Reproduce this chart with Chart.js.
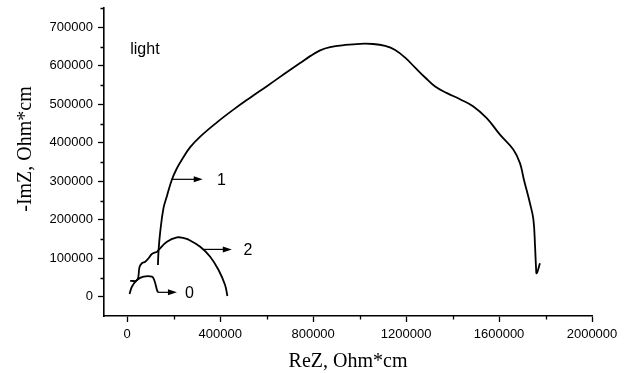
<!DOCTYPE html>
<html>
<head>
<meta charset="utf-8">
<script src="https://cdn.jsdelivr.net/npm/chart.js@4/dist/chart.umd.min.js"></script>
<style>
  html, body { margin: 0; padding: 0; background: #fff; }
  #wrap { width: 626px; height: 373px; }
</style>
</head>
<body>
<div id="wrap"><canvas id="c" width="626" height="373"></canvas></div>
<script>
// Nyquist impedance spectra (ReZ vs -ImZ), sample under light
const curve0X = [10000, 20000, 42000, 70000, 106000, 116000, 128000, 132000];
const curve0Y = [7000, 26000, 43500, 52000, 52000, 43500, 17500, 11500];

const curve1X = [132000, 135000, 142000, 156000, 171000, 192000, 214000, 235000, 271000, 314000, 386000, 457000, 529000, 601000, 672000, 744000, 787000, 830000, 873000, 938000, 1002000, 1058000, 1110000, 1153000, 1196000, 1239000, 1282000, 1325000, 1376000, 1432000, 1488000, 1547000, 1604000, 1662000, 1690000, 1707000, 1733000, 1748000, 1755000, 1759000, 1762000, 1776000];
const curve1Y = [82500, 121600, 169000, 230000, 262000, 304000, 334000, 356000, 388500, 416000, 453000, 486000, 517000, 547000, 577000, 607000, 625000, 640000, 648500, 654000, 657000, 656500, 651500, 641000, 621000, 595000, 569500, 546000, 529000, 513000, 495000, 464000, 421000, 382000, 347000, 304000, 243000, 200000, 130000, 78000, 61000, 87000];

const curve2X = [12900, 43000, 52900, 63200, 77400, 91600, 106000, 128000, 135000, 171000, 214000, 240000, 262000, 314000, 357000, 393000, 421000, 431000];
const curve2Y = [40900, 43500, 77300, 87000, 91100, 100000, 111000, 117000, 121600, 143000, 154000, 153000, 149000, 130000, 104000, 69500, 30500, 2000];

// Curve markers: arrow from the curve to its number
const markerLabels = ['1', '2', '0'];
const markerY = [305000, 123000, 11500];
const markerStartX = [190000, 328000, 132000];
const markerEndX = [325000, 450000, 214000];
const markerTextX = [386000, 500000, 249000];

// Axis ticks
const xMajorTicks = [0, 400000, 800000, 1200000, 1600000, 2000000];
const xMinorTicks = [200000, 600000, 1000000, 1400000, 1800000];
const yMajorTicks = [0, 100000, 200000, 300000, 400000, 500000, 600000, 700000];
const yMinorTicks = [50000, 150000, 250000, 350000, 450000, 550000, 650000, 750000];

const xTitle = 'ReZ, Ohm*cm';
const yTitle = '-ImZ, Ohm*cm';
const noteText = 'light';
const noteX = 13000;
const noteY = 642000;

const toPoints = (xs, ys) => xs.map((x, i) => ({ x: x, y: ys[i] }));

const lineStyle = {
  borderColor: '#000',
  borderWidth: 1.8,
  pointRadius: 0,
  showLine: true,
  fill: false,
  tension: 0.4
};

const decorations = {
  id: 'decorations',
  afterDraw(chart) {
    const ctx = chart.ctx;
    const xs = chart.scales.x, ys = chart.scales.y;
    ctx.save();
    ctx.strokeStyle = '#000';
    ctx.fillStyle = '#000';

    // minor tick marks
    ctx.lineWidth = 1.3;
    ctx.beginPath();
    xMinorTicks.forEach(v => {
      const px = Math.round(xs.getPixelForValue(v)) + 0.5;
      ctx.moveTo(px, xs.top);
      ctx.lineTo(px, xs.top + 3.5);
    });
    yMinorTicks.forEach(v => {
      const py = Math.round(ys.getPixelForValue(v)) + 0.5;
      ctx.moveTo(ys.right, py);
      ctx.lineTo(ys.right - 3.5, py);
    });
    ctx.stroke();

    // arrows with curve numbers
    ctx.font = '16px "Liberation Sans", Arial, sans-serif';
    ctx.textBaseline = 'middle';
    ctx.textAlign = 'left';
    markerLabels.forEach((lab, i) => {
      const y = ys.getPixelForValue(markerY[i]);
      const x0 = xs.getPixelForValue(markerStartX[i]);
      const x1 = xs.getPixelForValue(markerEndX[i]);
      ctx.lineWidth = 1.2;
      ctx.beginPath();
      ctx.moveTo(x0, y);
      ctx.lineTo(x1 - 6, y);
      ctx.stroke();
      ctx.beginPath();
      ctx.moveTo(x1, y);
      ctx.lineTo(x1 - 9, y - 3);
      ctx.lineTo(x1 - 9, y + 3);
      ctx.closePath();
      ctx.fill();
      ctx.fillText(lab, xs.getPixelForValue(markerTextX[i]), y + 1);
    });

    // note
    ctx.font = '16px "Liberation Sans", Arial, sans-serif';
    ctx.fillText(noteText, xs.getPixelForValue(noteX), ys.getPixelForValue(noteY));

    // axis titles
    ctx.font = '20px "Liberation Serif", "Times New Roman", serif';
    ctx.textAlign = 'center';
    ctx.textBaseline = 'alphabetic';
    ctx.fillText(xTitle, (chart.chartArea.left + chart.chartArea.right) / 2, 367);
    ctx.translate(31, 149);
    ctx.rotate(-Math.PI / 2);
    ctx.fillText(yTitle, 0, 0);
    ctx.restore();
  }
};

const tickFont = { family: '"Liberation Sans", Arial, sans-serif', size: 13 };

const fixBox = size => s => {
  if (s.isHorizontal()) { s.height = size; } else { s.width = size; }
  s.paddingTop = 0; s.paddingBottom = 0; s.paddingLeft = 0; s.paddingRight = 0;
};

new Chart(document.getElementById('c'), {
  type: 'scatter',
  data: {
    datasets: [
      Object.assign({ label: '0', data: toPoints(curve0X, curve0Y) }, lineStyle),
      Object.assign({ label: '1', data: toPoints(curve1X, curve1Y) }, lineStyle),
      Object.assign({ label: '2', data: toPoints(curve2X, curve2Y) }, lineStyle)
    ]
  },
  options: {
    responsive: false,
    animation: false,
    layout: { padding: { left: 0, right: 34, top: 8, bottom: 0 } },
    plugins: { legend: { display: false }, tooltip: { enabled: false } },
    scales: {
      x: {
        type: 'linear',
        min: -100000,
        max: 2000000,
        afterBuildTicks: s => { s.ticks = xMajorTicks.map(v => ({ value: v })); },
        afterFit: fixBox(57),
        ticks: { color: '#000', font: tickFont, padding: 5, maxRotation: 0, callback: v => String(v) },
        grid: { drawOnChartArea: false, drawTicks: true, tickLength: 6, tickColor: '#000', tickWidth: 1.3 },
        border: { display: true, color: '#000', width: 1.6 }
      },
      y: {
        type: 'linear',
        min: -50000,
        max: 750000,
        afterBuildTicks: s => { s.ticks = yMajorTicks.map(v => ({ value: v })); },
        afterFit: fixBox(104),
        ticks: { color: '#000', font: tickFont, padding: 5, callback: v => String(v) },
        grid: { drawOnChartArea: false, drawTicks: true, tickLength: 6, tickColor: '#000', tickWidth: 1.3 },
        border: { display: true, color: '#000', width: 1.6 }
      }
    }
  },
  plugins: [decorations]
});
</script>
</body>
</html>
